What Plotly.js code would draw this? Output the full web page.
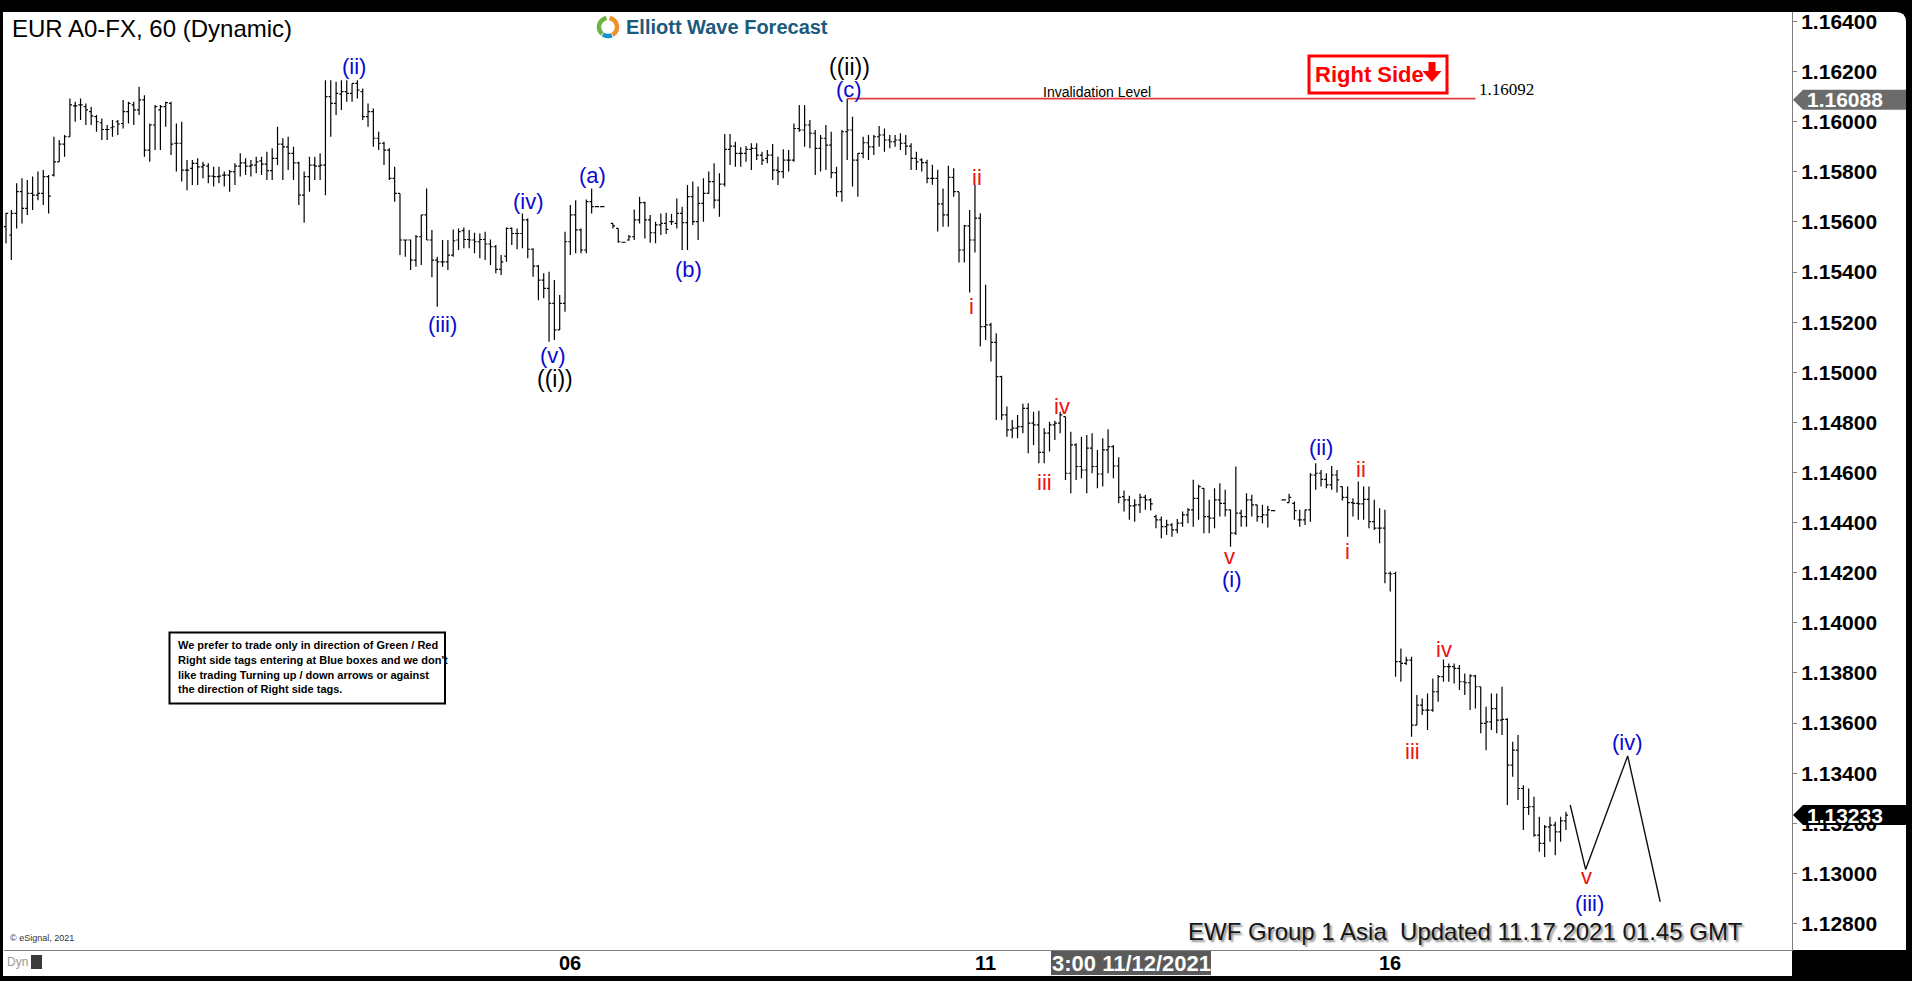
<!DOCTYPE html>
<html>
<head>
<meta charset="utf-8">
<script src="https://cdn.plot.ly/plotly-3.0.1.min.js"></script>
<style>
html,body{margin:0;padding:0;background:#000;overflow:hidden;}
#chart{width:1912px;height:981px;}
</style>
</head>
<body>
<div id="chart"></div>
<script>
// ---------------- DATA (EUR/USD hourly bars) ----------------
const barOpen = [
1.15581,1.15548,1.15634,1.15721,1.15654,1.15714,1.15707,1.15714,1.15781,1.15787,
1.15840,1.15911,1.15940,1.16063,1.16067,1.16060,1.16040,1.16020,1.15996,1.15969,
1.15976,1.16000,1.15993,1.16040,1.16067,1.16047,1.16087,1.15887,1.15987,1.16047,
1.16060,1.16073,1.15914,1.15914,1.15807,1.15814,1.15834,1.15820,1.15823,1.15783,
1.15781,1.15787,1.15787,1.15801,1.15823,1.15836,1.15823,1.15827,1.15844,1.15831,
1.15805,1.15854,1.15911,1.15900,1.15874,1.15836,1.15707,1.15781,1.15827,1.15823,
1.15827,1.16100,1.16073,1.16110,1.16120,1.16113,1.16153,1.16120,1.16020,1.16040,
1.15934,1.15914,1.15887,1.15774,1.15714,1.15528,1.15528,1.15448,1.15541,1.15628,
1.15528,1.15448,1.15441,1.15441,1.15468,1.15528,1.15565,1.15530,1.15528,1.15521,
1.15530,1.15512,1.15501,1.15411,1.15464,1.15574,1.15554,1.15554,1.15608,1.15491,
1.15424,1.15368,1.15335,1.15275,1.15169,1.15275,1.15521,1.15628,1.15568,1.15488,
1.15681,1.15661,1.15661,null,
1.15594,1.15574,1.15519,1.15528,1.15541,1.15608,1.15677,
1.15608,1.15557,1.15588,1.15594,1.15601,1.15594,1.15634,1.15597,1.15701,1.15601,
1.15674,1.15714,1.15761,1.15687,1.15751,1.15890,1.15903,1.15874,1.15874,1.15890,
1.15894,1.15867,1.15854,1.15867,1.15807,1.15801,1.15847,1.15847,1.15973,1.15967,
1.15987,1.15954,1.15894,1.15934,1.15907,1.15797,1.15721,1.15960,1.15967,1.15847,
1.15874,1.15916,1.15900,1.15940,1.15947,1.15927,1.15920,1.15927,1.15914,1.15903,
1.15854,1.15848,1.15837,1.15774,1.15774,1.15672,1.15628,1.15778,1.15721,1.15488,
1.15584,1.15528,1.15615,1.15182,1.15189,1.15119,1.14983,1.14830,1.14770,1.14777,
1.14783,1.14856,1.14797,1.14790,1.14680,1.14757,1.14790,1.14797,1.14823,1.14597,
1.14710,1.14624,1.14610,1.14697,1.14624,1.14594,1.14690,1.14703,1.14626,1.14504,
1.14491,1.14467,1.14471,1.14501,1.14491,1.14424,1.14411,1.14384,1.14391,1.14371,
1.14398,1.14431,1.14451,1.14497,1.14537,1.14424,1.14418,1.14491,1.14477,1.14451,
1.14358,1.14438,1.14424,1.14491,1.14471,1.14424,1.14431,1.14448,null,
1.14491,1.14480,
1.14477,1.14411,1.14411,1.14451,1.14590,1.14597,1.14573,1.14551,1.14590,1.14544,
1.14501,1.14480,1.14477,1.14475,1.14493,1.14404,1.14378,1.14378,1.14198,1.14197,
1.13845,1.13838,1.13851,1.13592,1.13672,1.13652,1.13652,1.13725,1.13785,1.13825,
1.13825,1.13818,1.13765,1.13761,1.13788,1.13745,1.13599,1.13605,1.13658,1.13612,
1.13615,1.13432,1.13492,1.13339,1.13263,1.13266,1.13153,1.13120,1.13186,1.13193,
1.13166,1.13210
];
const barHigh = [
1.15637,1.15648,1.15754,1.15774,1.15767,1.15781,1.15801,1.15807,1.15787,1.15940,
1.15927,1.15947,1.16093,1.16080,1.16093,1.16073,1.16060,1.16027,1.16013,1.15987,
1.16007,1.16007,1.16087,1.16080,1.16080,1.16140,1.16106,1.15993,1.16067,1.16067,
1.16080,1.16080,1.15993,1.16000,1.15847,1.15847,1.15854,1.15840,1.15834,1.15820,
1.15820,1.15801,1.15807,1.15834,1.15874,1.15854,1.15847,1.15860,1.15860,1.15880,
1.15894,1.15980,1.15934,1.15940,1.15900,1.15840,1.15801,1.15860,1.15860,1.15874,
1.16166,1.16166,1.16160,1.16166,1.16166,1.16153,1.16166,1.16133,1.16073,1.16053,
1.15960,1.15920,1.15894,1.15820,1.15714,1.15530,1.15530,1.15548,1.15628,1.15734,
1.15568,1.15461,1.15528,1.15528,1.15570,1.15574,1.15578,1.15568,1.15557,1.15554,
1.15561,1.15530,1.15508,1.15468,1.15578,1.15578,1.15574,1.15634,1.15614,1.15495,
1.15428,1.15395,1.15401,1.15368,1.15308,1.15561,1.15668,1.15687,1.15574,1.15690,
1.15734,1.15661,1.15661,null,
1.15594,1.15574,1.15519,1.15548,1.15650,1.15701,1.15681,
1.15628,1.15601,1.15634,1.15637,1.15632,1.15694,1.15661,1.15747,1.15761,1.15741,
1.15774,1.15801,1.15834,1.15794,1.15951,1.15951,1.15920,1.15898,1.15903,1.15914,
1.15914,1.15880,1.15887,1.15911,1.15860,1.15890,1.15887,1.15993,1.16067,1.16067,
1.16007,1.15967,1.15947,1.15987,1.15960,1.15820,1.15967,1.16092,1.16020,1.15874,
1.15940,1.15947,1.15947,1.15983,1.15973,1.15947,1.15947,1.15954,1.15947,1.15914,
1.15880,1.15854,1.15848,1.15828,1.15808,1.15734,1.15824,1.15814,1.15721,1.15588,
1.15648,1.15748,1.15635,1.15349,1.15198,1.15156,1.14986,1.14863,1.14810,1.14830,
1.14874,1.14876,1.14843,1.14847,1.14777,1.14803,1.14807,1.14843,1.14823,1.14763,
1.14717,1.14743,1.14750,1.14757,1.14690,1.14737,1.14773,1.14710,1.14661,1.14528,
1.14507,1.14493,1.14515,1.14511,1.14497,1.14431,1.14424,1.14411,1.14398,1.14414,
1.14444,1.14457,1.14571,1.14551,1.14537,1.14491,1.14537,1.14557,1.14531,1.14451,
1.14624,1.14451,1.14517,1.14511,1.14471,1.14471,1.14467,1.14448,null,
1.14491,1.14515,
1.14484,1.14451,1.14451,1.14597,1.14637,1.14610,1.14597,1.14626,1.14610,1.14544,
1.14544,1.14497,1.14564,1.14544,1.14544,1.14491,1.14457,1.14451,1.14205,1.14204,
1.13898,1.13865,1.13865,1.13712,1.13698,1.13718,1.13778,1.13792,1.13854,1.13838,
1.13838,1.13832,1.13798,1.13795,1.13792,1.13745,1.13665,1.13718,1.13718,1.13745,
1.13619,1.13525,1.13552,1.13352,1.13339,1.13306,1.13226,1.13193,1.13226,1.13206,
1.13226,1.13246
];
const barLow = [
1.15515,1.15448,1.15574,1.15594,1.15628,1.15648,1.15687,1.15668,1.15634,1.15781,
1.15840,1.15860,1.15940,1.16000,1.16007,1.15987,1.15987,1.15960,1.15927,1.15927,
1.15940,1.15947,1.15973,1.15993,1.15987,1.16027,1.15860,1.15840,1.15887,1.15887,
1.15980,1.15867,1.15801,1.15761,1.15727,1.15747,1.15747,1.15774,1.15754,1.15741,
1.15754,1.15741,1.15721,1.15747,1.15781,1.15787,1.15781,1.15794,1.15787,1.15767,
1.15767,1.15827,1.15767,1.15807,1.15767,1.15668,1.15597,1.15721,1.15767,1.15767,
1.15707,1.15940,1.16027,1.16047,1.16080,1.16080,1.16093,1.16007,1.15980,1.15900,
1.15887,1.15827,1.15767,1.15681,1.15468,1.15461,1.15408,1.15421,1.15428,1.15528,
1.15379,1.15262,1.15421,1.15408,1.15461,1.15488,1.15495,1.15495,1.15475,1.15455,
1.15448,1.15428,1.15395,1.15388,1.15441,1.15508,1.15491,1.15495,1.15455,1.15381,
1.15288,1.15295,1.15122,1.15129,1.15169,1.15242,1.15468,1.15475,1.15475,1.15475,
1.15634,1.15661,1.15661,null,
1.15574,1.15517,1.15519,1.15525,1.15528,1.15594,1.15534,
1.15517,1.15515,1.15548,1.15552,1.15588,1.15574,1.15488,1.15488,1.15588,1.15528,
1.15601,1.15714,1.15654,1.15621,1.15741,1.15827,1.15820,1.15820,1.15840,1.15807,
1.15847,1.15827,1.15834,1.15767,1.15747,1.15774,1.15801,1.15840,1.15960,1.15900,
1.15894,1.15787,1.15801,1.15807,1.15774,1.15701,1.15681,1.15847,1.15741,1.15701,
1.15854,1.15847,1.15867,1.15900,1.15880,1.15894,1.15900,1.15887,1.15867,1.15807,
1.15807,1.15801,1.15754,1.15748,1.15562,1.15581,1.15581,1.15701,1.15438,1.15438,
1.15318,1.15478,1.15103,1.15129,1.15043,1.14810,1.14810,1.14743,1.14737,1.14737,
1.14757,1.14677,1.14710,1.14637,1.14637,1.14684,1.14730,1.14757,1.14570,1.14517,
1.14570,1.14577,1.14517,1.14597,1.14537,1.14544,1.14597,1.14577,1.14477,1.14444,
1.14411,1.14404,1.14438,1.14451,1.14448,1.14378,1.14338,1.14351,1.14344,1.14358,
1.14384,1.14398,1.14384,1.14411,1.14358,1.14358,1.14378,1.14424,1.14424,1.14304,
1.14351,1.14384,1.14384,1.14424,1.14404,1.14398,1.14381,1.14448,null,
1.14491,1.14480,
1.14411,1.14384,1.14391,1.14404,1.14531,1.14544,1.14537,1.14531,1.14520,1.14488,
1.14344,1.14424,1.14411,1.14411,1.14378,1.14371,1.14318,1.14158,1.14125,1.13785,
1.13765,1.13832,1.13545,1.13592,1.13632,1.13572,1.13645,1.13685,1.13765,1.13765,
1.13758,1.13732,1.13712,1.13652,1.13658,1.13559,1.13492,1.13572,1.13559,1.13552,
1.13273,1.13386,1.13293,1.13173,1.13233,1.13146,1.13086,1.13066,1.13126,1.13073,
1.13126,1.13173
];
const barClose = [
1.15634,1.15634,1.15721,1.15654,1.15714,1.15707,1.15714,1.15781,1.15703,1.15840,
1.15911,1.15940,1.16067,1.16063,1.16067,1.16047,1.16023,1.16000,1.15969,1.15969,
1.15980,1.15991,1.16040,1.16073,1.16047,1.16087,1.15887,1.15987,1.16060,1.16060,
1.16076,1.15911,1.15914,1.15807,1.15807,1.15834,1.15820,1.15827,1.15783,1.15781,
1.15783,1.15787,1.15801,1.15823,1.15836,1.15823,1.15827,1.15840,1.15831,1.15805,
1.15854,1.15911,1.15900,1.15874,1.15836,1.15707,1.15781,1.15827,1.15823,1.15827,
1.16100,1.16073,1.16113,1.16120,1.16113,1.16153,1.16126,1.16020,1.16040,1.15934,
1.15914,1.15887,1.15774,1.15714,1.15528,1.15528,1.15448,1.15541,1.15628,1.15528,
1.15448,1.15441,1.15441,1.15468,1.15525,1.15561,1.15530,1.15528,1.15521,1.15530,
1.15512,1.15501,1.15411,1.15441,1.15574,1.15554,1.15554,1.15608,1.15491,1.15424,
1.15368,1.15335,1.15275,1.15169,1.15275,1.15521,1.15628,1.15568,1.15488,1.15681,
1.15661,1.15661,1.15661,null,
1.15584,1.15521,1.15519,1.15541,1.15608,1.15677,1.15608,
1.15557,1.15588,1.15594,1.15570,1.15601,1.15634,1.15597,1.15701,1.15601,1.15674,
1.15714,1.15761,1.15687,1.15751,1.15890,1.15903,1.15874,1.15874,1.15890,1.15894,
1.15867,1.15847,1.15867,1.15807,1.15801,1.15847,1.15847,1.15973,1.15967,1.15987,
1.15954,1.15894,1.15934,1.15907,1.15797,1.15721,1.15960,1.15967,1.15847,1.15874,
1.15916,1.15900,1.15940,1.15947,1.15927,1.15920,1.15927,1.15914,1.15903,1.15854,
1.15840,1.15837,1.15774,1.15774,1.15672,1.15628,1.15778,1.15721,1.15488,1.15584,
1.15528,1.15615,1.15182,1.15189,1.15119,1.14983,1.14830,1.14770,1.14777,1.14783,
1.14856,1.14797,1.14790,1.14680,1.14757,1.14790,1.14797,1.14830,1.14597,1.14710,
1.14624,1.14610,1.14697,1.14624,1.14594,1.14690,1.14703,1.14626,1.14501,1.14491,
1.14467,1.14471,1.14501,1.14491,1.14475,1.14411,1.14384,1.14391,1.14371,1.14398,
1.14431,1.14451,1.14497,1.14544,1.14424,1.14418,1.14491,1.14477,1.14451,1.14358,
1.14438,1.14424,1.14491,1.14471,1.14424,1.14431,1.14451,1.14448,null,
1.14491,1.14501,
1.14448,1.14411,1.14451,1.14590,1.14597,1.14573,1.14551,1.14590,1.14571,1.14501,
1.14480,1.14477,1.14475,1.14493,1.14404,1.14378,1.14378,1.14198,1.14195,1.13845,
1.13838,1.13851,1.13592,1.13672,1.13652,1.13652,1.13725,1.13785,1.13825,1.13825,
1.13818,1.13765,1.13761,1.13788,1.13745,1.13599,1.13605,1.13658,1.13612,1.13615,
1.13432,1.13492,1.13339,1.13263,1.13266,1.13153,1.13120,1.13186,1.13193,1.13166,
1.13210,1.13233
];

// x-axis day labels (bar slot where each day starts)
const dayTicks  = [106, 184, 260];
const dayLabels = ['06', '11', '16'];

// price axis ticks
const priceTicks  = [1.128,1.130,1.132,1.134,1.136,1.138,1.140,1.142,1.144,1.146,1.148,1.150,1.152,1.154,1.156,1.158,1.160,1.162,1.164];
const priceLabels = ['1.12800','1.13000','1.13200','1.13400','1.13600','1.13800','1.14000','1.14200','1.14400','1.14600','1.14800','1.15000','1.15200','1.15400','1.15600','1.15800','1.16000','1.16200','1.16400'];

// Elliott wave labels (bar slot, price)
const waveText  = ['(ii)','(iii)','(iv)','(v)','((i))','(a)','(b)','((ii))','(c)','ii','i','iv','iii','v','(i)','(ii)','ii','i','iv','iii','v','(iii)','(iv)'];
const waveSlot  = [65.4,82.0,98.1,102.7,103.1,110.2,128.2,158.4,158.4,182.3,181.3,198.4,195.0,229.8,230.2,246.9,254.5,251.9,270.1,264.2,296.9,297.4,304.6];
const wavePrice = [1.16220,1.15189,1.15681,1.15069,1.14972,1.15787,1.15411,1.16220,1.16127,1.15778,1.15262,1.14865,1.14559,1.14264,1.14174,1.14701,1.14613,1.14284,1.13894,1.13486,1.12988,1.12880,1.13522];
const waveDegree = ['minor','minor','minor','minor','major','minor','minor','major','minor','sub','sub','sub','sub','sub','minor','minor','sub','sub','sub','sub','sub','minor','minor'];

// projected path
const projSlot  = [293.8, 296.7, 304.6, 310.7];
const projPrice = [1.13273, 1.13016, 1.13469, 1.12887];

// invalidation level
const invLevel = 1.16092;
const invSlots = [158, 276];

// price markers on the right scale
const markerPrice = [1.16088, 1.13233];
const markerText  = ['1.16088', '1.13233'];

// ---------------- GEOMETRY HELPERS (layout only) ----------------
const L = 4, R = 1792, T = 12, B = 950;
const xp = px => (px - L) / (R - L);
const yp = py => (B - py) / (B - T);
const SLOT0 = 6, SLOTW = 5.324;
const P0 = 1.164, P0Y = 21.5, PPX = 3.991e-5;
const xRange = [(L - SLOT0) / SLOTW, (R - SLOT0) / SLOTW];
const yRange = [P0 - (B - P0Y) * PPX, P0 + (P0Y - T) * PPX];
const FF = '"Liberation Sans", Arial, Helvetica, sans-serif';

// build the ohlc arrays, skipping empty slots
const xs = [], o = [], h = [], lo = [], c = [];
for (let i = 0; i < barOpen.length; i++) {
  if (barOpen[i] === null) continue;
  xs.push(i); o.push(barOpen[i]); h.push(barHigh[i]); lo.push(barLow[i]); c.push(barClose[i]);
}

const traces = [
  {
    type: 'ohlc', x: xs, open: o, high: h, low: lo, close: c,
    increasing: {line: {color: '#000', width: 1.2}},
    decreasing: {line: {color: '#000', width: 1.2}},
    tickwidth: 0.4, hoverinfo: 'skip', showlegend: false
  },
  {
    type: 'scatter', mode: 'lines', x: invSlots, y: [invLevel, invLevel],
    line: {color: '#e23b3b', width: 1.6}, hoverinfo: 'skip', showlegend: false
  },
  {
    type: 'scatter', mode: 'lines', x: projSlot, y: projPrice,
    line: {color: '#111', width: 1.4}, hoverinfo: 'skip', showlegend: false, cliponaxis: false
  }
];

function pa(text, xpx, ypx, font, extra) {
  return Object.assign({
    xref: 'paper', yref: 'paper', x: xp(xpx), y: yp(ypx), text: text, showarrow: false,
    xanchor: 'center', yanchor: 'middle', font: Object.assign({family: FF, color: '#000', size: 14}, font)
  }, extra || {});
}

const annotations = [];
// title and logo
annotations.push(pa('EUR A0-FX, 60 (Dynamic)', 10, 29, {size: 24}, {xanchor: 'left'}));
annotations.push(pa('Elliott Wave Forecast', 624, 27, {size: 20, weight: 'bold', color: '#1c5a7c'}, {xanchor: 'left'}));
// wave labels
const waveColors = {minor: '#0a0ad0', major: '#000', sub: '#ee1111'};
for (let i = 0; i < waveText.length; i++) {
  annotations.push({
    xref: 'x', yref: 'y', x: waveSlot[i], y: wavePrice[i], text: waveText[i], showarrow: false,
    xanchor: 'center', yanchor: 'middle', borderpad: 0,
    font: {family: FF, size: waveDegree[i] === 'major' ? 23 : 22, color: waveColors[waveDegree[i]]}
  });
}
// day labels on the time axis
for (let i = 0; i < dayTicks.length; i++) {
  annotations.push({
    xref: 'x', yref: 'paper', x: dayTicks[i], y: yp(963), text: dayLabels[i], showarrow: false,
    xanchor: 'center', yanchor: 'middle', font: {family: FF, size: 20, weight: 'bold', color: '#000'}
  });
}
// invalidation text
annotations.push(pa('Invalidation Level', 1097, 91.5, {size: 14}));
annotations.push(pa(invLevel.toFixed(5), 1477, 90, {size: 17, family: '"Liberation Serif", "Times New Roman", serif'}, {xanchor: 'left'}));
// right side tag
annotations.push(pa('Right Side', 1313, 75, {size: 22, weight: 'bold', color: '#ff0000'}, {xanchor: 'left'}));
// price markers
for (let i = 0; i < markerPrice.length; i++) {
  annotations.push({
    xref: 'paper', yref: 'y', x: xp(1805), y: markerPrice[i], text: markerText[i], showarrow: false,
    xanchor: 'left', yanchor: 'middle', font: {family: FF, size: 21, weight: 'bold', color: '#fff'}
  });
}
// footer
annotations.push(pa('EWF Group 1 Asia\u00a0\u00a0Updated 11.17.2021 01.45 GMT', 1465, 931,
  {size: 24, color: '#151515', shadow: '2px 2px 2px rgba(0,0,0,0.45)'}, {borderpad: 0}));
// disclaimer
const discl = ['We prefer to trade only in direction of Green / Red',
               'Right side tags entering at Blue boxes and we don\'t',
               'like trading Turning up / down arrows or against',
               'the direction of Right side tags.'];
const disclY = [645, 660, 674.5, 689];
for (let i = 0; i < discl.length; i++) {
  annotations.push(pa(discl[i], 176, disclY[i], {size: 11, weight: 'bold'}, {xanchor: 'left'}));
}
annotations.push(pa('\u00a9 eSignal, 2021', 8, 938, {size: 9, color: '#333'}, {xanchor: 'left'}));
annotations.push(pa('Dyn', 5, 962, {size: 12, color: '#9a9a9a'}, {xanchor: 'left'}));
annotations.push(pa('3:00 11/12/2021', 1131, 963, {size: 22, weight: 'bold', color: '#fff'}));

// ---------------- SHAPES ----------------
const P = (px, py) => xp(px).toFixed(6) + ',' + yp(py).toFixed(6);
const shapes = [];
// white canvas with rounded top-right corner
shapes.push({type: 'path', xref: 'paper', yref: 'paper', layer: 'below',
  path: 'M' + P(3, 950) + ' L' + P(1906, 950) + ' L' + P(1906, 22) + ' Q' + P(1906, 12) + ' ' + P(1896, 12) + ' L' + P(3, 12) + ' Z',
  fillcolor: '#fff', line: {width: 0}});
// white date strip under the plot
shapes.push({type: 'rect', xref: 'paper', yref: 'paper', layer: 'below',
  x0: xp(3), x1: xp(1792), y0: yp(976), y1: yp(950), fillcolor: '#fff', line: {width: 0}});
// disclaimer box
shapes.push({type: 'rect', xref: 'paper', yref: 'paper', x0: xp(169.5), x1: xp(445), y0: yp(703.5), y1: yp(632.5),
  line: {color: '#000', width: 2}, fillcolor: 'rgba(255,255,255,0)'});
// right side box
shapes.push({type: 'rect', xref: 'paper', yref: 'paper', x0: xp(1309), x1: xp(1447), y0: yp(93), y1: yp(56),
  line: {color: '#ff0000', width: 3}, fillcolor: '#fff', layer: 'below'});
// down arrow inside right side box
shapes.push({type: 'path', xref: 'paper', yref: 'paper',
  path: 'M' + P(1428.5, 62) + ' L' + P(1435.5, 62) + ' L' + P(1435.5, 71) + ' L' + P(1441.5, 71) + ' L' + P(1432, 82) + ' L' + P(1422.5, 71) + ' L' + P(1428.5, 71) + ' Z',
  fillcolor: '#ff0000', line: {width: 0}});
// price marker tags
const tagColors = ['#6b6b6b', '#000'];
for (let i = 0; i < markerPrice.length; i++) {
  const pc = markerPrice[i], hh = 10 * PPX;
  const X = v => xp(v).toFixed(6);
  shapes.push({type: 'path', xref: 'paper', yref: 'y',
    path: 'M' + X(1793) + ',' + pc + ' L' + X(1803) + ',' + (pc + hh) + ' L' + X(1906) + ',' + (pc + hh) +
          ' L' + X(1906) + ',' + (pc - hh) + ' L' + X(1803) + ',' + (pc - hh) + ' Z',
    fillcolor: tagColors[i], line: {width: 0}});
}
// date box on the time axis
shapes.push({type: 'rect', xref: 'paper', yref: 'paper', x0: xp(1051), x1: xp(1211), y0: yp(975), y1: yp(951),
  fillcolor: '#5a5a5a', line: {width: 0}});
// small icon next to Dyn
shapes.push({type: 'rect', xref: 'paper', yref: 'paper', x0: xp(31), x1: xp(42), y0: yp(969), y1: yp(955),
  fillcolor: '#3a3a3a', line: {width: 0}});
// logo ring (three colored arcs)
function arcPath(cx, cy, r, a0, a1) {
  let s = '';
  for (let k = 0; k <= 16; k++) {
    const a = (a0 + (a1 - a0) * k / 16) * Math.PI / 180;
    s += (k ? ' L' : 'M') + P(cx + r * Math.cos(a), cy - r * Math.sin(a));
  }
  return s;
}
const logoArcs = [[100, 230, '#6cb33f'], [-60, 80, '#f0902a'], [235, 295, '#1c8fd0']];
logoArcs.forEach(a => shapes.push({type: 'path', xref: 'paper', yref: 'paper', path: arcPath(608, 27, 9, a[0], a[1]),
  line: {color: a[2], width: 4.5}}));

const layout = {
  width: 1912, height: 981,
  margin: {l: L, r: 1912 - R, t: T, b: 981 - B, pad: 0},
  paper_bgcolor: '#000', plot_bgcolor: 'rgba(0,0,0,0)',
  showlegend: false, hovermode: false, dragmode: false,
  xaxis: {
    range: xRange, tickmode: 'array', tickvals: dayTicks, showticklabels: false,
    showgrid: false, zeroline: false, showline: true, linecolor: '#808080', linewidth: 1,
    ticks: '', rangeslider: {visible: false}, fixedrange: true
  },
  yaxis: {
    range: yRange, side: 'right', tickmode: 'array', tickvals: priceTicks, ticktext: priceLabels,
    ticks: 'outside', ticklen: 4, tickcolor: '#808080',
    showgrid: false, zeroline: false, showline: true, linecolor: '#808080', linewidth: 1,
    tickfont: {family: FF, size: 21, color: '#000', weight: 'bold'}, fixedrange: true
  },
  shapes: shapes,
  annotations: annotations
};

Plotly.newPlot('chart', traces, layout, {displayModeBar: false, staticPlot: true});
</script>
</body>
</html>
